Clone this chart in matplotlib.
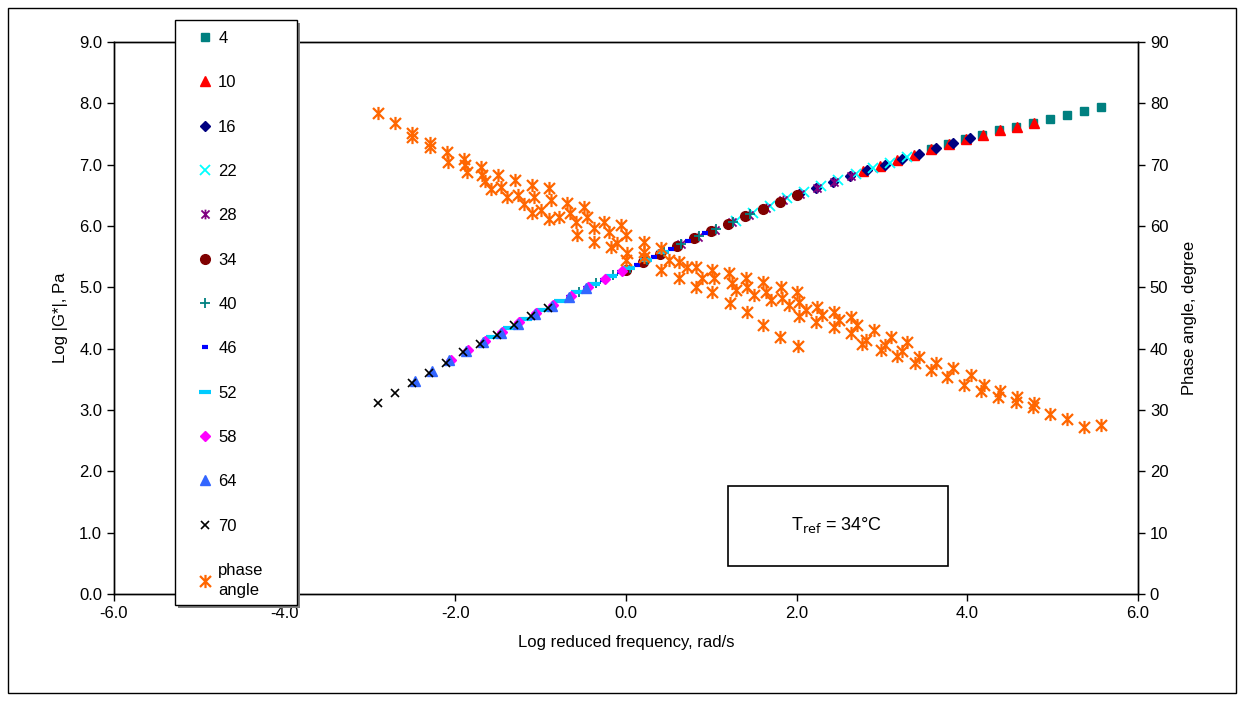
import matplotlib
matplotlib.use('agg')
import matplotlib.pyplot as plt
from matplotlib.patches import Rectangle
from matplotlib.path import Path

plt.rcParams['font.family'] = ['Liberation Sans', 'DejaVu Sans']

# log reduced frequency and log |G*| per test temperature (deg C)
x_04 = [3.57, 3.77, 3.97, 4.17, 4.37, 4.57, 4.77, 4.97, 5.17, 5.37, 5.57]
g_04 = [7.25, 7.34, 7.42, 7.49, 7.56, 7.62, 7.68, 7.75, 7.81, 7.88, 7.94]
x_10 = [2.78, 2.98, 3.18, 3.38, 3.58, 3.78, 3.98, 4.18, 4.38, 4.58, 4.78]
g_10 = [6.89, 6.98, 7.07, 7.16, 7.25, 7.34, 7.42, 7.49, 7.56, 7.62, 7.68]
x_16 = [2.03, 2.23, 2.43, 2.63, 2.83, 3.03, 3.23, 3.43, 3.63, 3.83, 4.03]
g_16 = [6.52, 6.62, 6.72, 6.82, 6.91, 7.00, 7.09, 7.18, 7.27, 7.36, 7.44]
x_22 = [1.29, 1.49, 1.69, 1.89, 2.09, 2.29, 2.49, 2.69, 2.89, 3.09, 3.29]
g_22 = [6.09, 6.21, 6.33, 6.45, 6.55, 6.65, 6.75, 6.85, 6.94, 7.03, 7.12]
x_28 = [0.64, 0.84, 1.04, 1.24, 1.44, 1.64, 1.84, 2.04, 2.24, 2.44, 2.64]
g_28 = [5.70, 5.82, 5.94, 6.06, 6.18, 6.30, 6.42, 6.53, 6.62, 6.72, 6.82]
x_34 = [0.00, 0.20, 0.40, 0.60, 0.80, 1.00, 1.20, 1.40, 1.60, 1.80, 2.00]
g_34 = [5.29, 5.42, 5.55, 5.68, 5.80, 5.92, 6.04, 6.16, 6.28, 6.40, 6.51]
x_40 = [-0.55, -0.35, -0.15, 0.05, 0.25, 0.45, 0.65, 0.85, 1.05, 1.25, 1.45]
g_40 = [4.93, 5.07, 5.20, 5.32, 5.45, 5.58, 5.71, 5.83, 5.95, 6.07, 6.19]
x_46 = [-1.07, -0.87, -0.67, -0.47, -0.27, -0.07, 0.13, 0.33, 0.53, 0.73, 0.93]
g_46 = [4.56, 4.70, 4.84, 4.99, 5.12, 5.25, 5.37, 5.50, 5.63, 5.76, 5.88]
x_52 = [-1.57, -1.37, -1.17, -0.97, -0.77, -0.57, -0.37, -0.17, 0.03, 0.23, 0.43]
g_52 = [4.19, 4.34, 4.49, 4.63, 4.77, 4.92, 5.06, 5.18, 5.31, 5.44, 5.57]
x_58 = [-2.05, -1.85, -1.65, -1.45, -1.25, -1.05, -0.85, -0.65, -0.45, -0.25, -0.05]
g_58 = [3.82, 3.98, 4.13, 4.28, 4.43, 4.58, 4.72, 4.86, 5.00, 5.13, 5.26]
x_64 = [-2.47, -2.27, -2.07, -1.87, -1.67, -1.47, -1.27, -1.07, -0.87, -0.67, -0.47]
g_64 = [3.47, 3.64, 3.81, 3.97, 4.11, 4.26, 4.41, 4.56, 4.70, 4.84, 4.99]
x_70 = [-2.91, -2.71, -2.51, -2.31, -2.11, -1.91, -1.71, -1.51, -1.31, -1.11, -0.91]
g_70 = [3.12, 3.28, 3.44, 3.60, 3.77, 3.94, 4.08, 4.23, 4.38, 4.53, 4.67]

# phase angle, all temperatures (degree)
phase_x = [-2.91, -2.71, -2.51, -2.51, -2.30, -2.30, -2.10, -2.09, -1.90, -1.89,
           -1.86, -1.70, -1.69, -1.65, -1.58, -1.50, -1.47, -1.40, -1.30, -1.27,
           -1.20, -1.10, -1.08, -1.10, -1.00, -0.90, -0.88, -0.90, -0.79,
           -0.69, -0.66, -0.59, -0.57, -0.49, -0.46, -0.38, -0.38, -0.26, -0.20,
           -0.18, -0.11, -0.06, 0.00, 0.01, 0.00,
           0.21, 0.21, 0.21, 0.41, 0.41, 0.50, 0.62, 0.62, 0.72, 0.82, 0.82,
           0.89, 1.01, 1.03, 1.01,
           1.21, 1.24, 1.29, 1.22, 1.41, 1.42, 1.50, 1.42, 1.61, 1.64, 1.70,
           1.61, 1.82, 1.83, 1.91, 1.81, 2.00, 2.03, 2.11, 2.03, 2.02,
           2.24, 2.30, 2.23, 2.44, 2.50, 2.44, 2.64, 2.71, 2.64, 2.91, 2.81,
           2.77, 3.11, 3.04, 2.99, 3.29, 3.24, 3.18, 3.43, 3.39,
           3.58, 3.63, 3.76, 3.83, 3.96, 4.04, 4.16, 4.20, 4.36, 4.38, 4.57,
           4.58, 4.77, 4.78, 4.97, 5.17, 5.37, 5.57]
phase_y = [78.4, 76.8, 75.2, 74.5, 73.5, 72.9, 72.1, 70.4, 70.9, 70.0,
           68.8, 69.6, 68.3, 67.3, 66.0, 68.3, 66.4, 64.7, 67.5, 65.1,
           63.6, 66.7, 64.7, 62.1, 62.6, 66.2, 64.2, 61.1, 61.5,
           63.8, 62.1, 60.7, 58.5, 63.1, 61.5, 59.7, 57.4, 60.7, 59.0,
           56.6, 57.2, 60.2, 58.5, 55.6, 54.5,
           57.4, 55.8, 54.9, 56.4, 52.8, 54.5, 54.1, 51.5, 53.3, 53.3, 50.1,
           51.5, 52.8, 51.5, 49.2,
           52.3, 50.7, 49.6, 47.4, 51.5, 50.1, 48.8, 46.0, 50.9, 49.2, 47.9,
           43.9, 50.1, 48.3, 47.1, 41.9, 49.2, 47.6, 46.3, 45.3, 40.4,
           46.8, 45.5, 44.4, 46.0, 44.7, 43.5, 45.2, 43.9, 42.6, 43.0, 41.4,
           40.8, 41.9, 40.6, 39.8, 41.1, 39.6, 38.8, 38.6, 37.7,
           36.5, 37.7, 35.4, 36.8, 34.1, 35.7, 33.1, 34.1, 32.1, 33.1, 31.3,
           32.1, 30.5, 31.1, 29.3, 28.5, 27.2, 27.6]

labels = ['4', '10', '16', '22', '28', '34', '40', '46', '52', '58', '64', '70']
xs = [x_04, x_10, x_16, x_22, x_28, x_34, x_40, x_46, x_52, x_58, x_64, x_70]
gs = [g_04, g_10, g_16, g_22, g_28, g_34, g_40, g_46, g_52, g_58, g_64, g_70]

# excel style star: x with a vertical bar
star = Path([(-1, -1), (1, 1), (-1, 1), (1, -1), (0, -1.2), (0, 1.2)],
            [Path.MOVETO, Path.LINETO, Path.MOVETO, Path.LINETO,
             Path.MOVETO, Path.LINETO])

styles = [
    dict(marker='s', color='#008080', ms=6),
    dict(marker='^', color='#FF0000', ms=7),
    dict(marker='D', color='#000080', ms=5),
    dict(marker='x', color='#00FFFF', ms=7, mew=1.3),
    dict(marker=star, color='#800080', ms=7, mew=1.3),
    dict(marker='o', color='#800000', ms=7),
    dict(marker='+', color='#008080', ms=7, mew=1.3),
    dict(marker='_', color='#0000FF', ms=5, mew=3),
    dict(marker='_', color='#00CCFF', ms=8, mew=3),
    dict(marker='D', color='#FF00FF', ms=5),
    dict(marker='^', color='#3366FF', ms=7),
    dict(marker='x', color='#000000', ms=6, mew=1.2),
]

W, H = 1244, 701
fig = plt.figure(figsize=(12.44, 7.01), dpi=100)
ax = fig.add_axes([0.0916, 0.1526, 0.8232, 0.7874])
ax2 = ax.twinx()

handles = []
for x, g, lab, st in zip(xs, gs, labels, styles):
    h, = ax.plot(x, g, linestyle='none', label=lab, **st)
    handles.append(h)

ph, = ax2.plot(phase_x, phase_y, linestyle='none', marker=star, color='#FF6600',
               ms=9.5, mew=1.6, label='phase\nangle')
handles.append(ph)

ax.set_xlim(-6, 6)
ax.set_ylim(0, 9)
ax2.set_ylim(0, 90)
ax.set_xticks([-6, -4, -2, 0, 2, 4, 6])
ax.set_yticks(range(10))
ax2.set_yticks(range(0, 100, 10))
ax.xaxis.set_major_formatter(matplotlib.ticker.FormatStrFormatter('%.1f'))
ax.yaxis.set_major_formatter(matplotlib.ticker.FormatStrFormatter('%.1f'))
for a in (ax, ax2):
    a.tick_params(direction='out', length=5, labelsize=12, width=1)
    for s in a.spines.values():
        s.set_linewidth(1)

ax.set_xlabel('Log reduced frequency, rad/s', fontsize=12, labelpad=10)
ax.set_ylabel('Log |G*|, Pa', fontsize=12, labelpad=8)
ax2.set_ylabel('Phase angle, degree', fontsize=12, labelpad=10)

# legend box drawn by hand so it can be as tall and wide as the original
fig.patches.append(Rectangle((178 / W, 1 - 608 / H), 122 / W, 585 / H,
                             transform=fig.transFigure, facecolor='#808080',
                             edgecolor='none', zorder=9))
fig.patches.append(Rectangle((175 / W, 1 - 605 / H), 122 / W, 585 / H,
                             transform=fig.transFigure, facecolor='white',
                             edgecolor='black', linewidth=1, zorder=10))
leg = fig.legend(handles=handles, loc='upper left',
                 bbox_to_anchor=(196.5 / W, 1 - 31 / H), frameon=False,
                 fontsize=12, labelspacing=1.76, handlelength=1.0,
                 handletextpad=0.3, borderpad=0, borderaxespad=0)
leg.set_zorder(11)
leg.get_texts()[-1].set_linespacing(1.45)

ax2.add_patch(Rectangle((0.5996, 0.0507), 0.2149, 0.145, transform=ax2.transAxes,
                        fill=False, edgecolor='black', linewidth=1.2, zorder=5))
ax2.text(0.706, 0.125, r'T$_{\mathrm{ref}}$ = 34°C', transform=ax2.transAxes,
         ha='center', va='center', fontsize=13)

fig.patches.append(Rectangle((8 / W, 8 / H), 1228 / W, 685 / H,
                             transform=fig.transFigure, fill=False,
                             edgecolor='black', linewidth=1))

fig.savefig('out.png', dpi=100)
